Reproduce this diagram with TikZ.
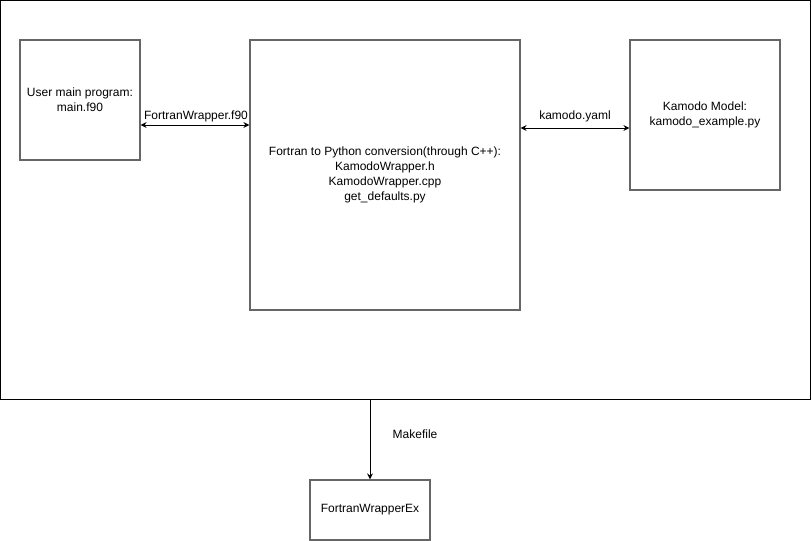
\documentclass[tikz,border=0pt]{standalone}
\usepackage{fontspec}
\setmainfont{Liberation Sans}
\usetikzlibrary{arrows.meta}
\tikzset{
  box/.style={draw=black!60, line width=1.2pt, inner sep=0pt, align=center, font=\fontsize{12}{15}\selectfont},
  link/.style={line width=1pt, -{Stealth[length=6pt,width=6pt]}},
  dlink/.style={line width=1pt, {Stealth[length=6pt,width=6pt]}-{Stealth[length=6pt,width=6pt]}},
  lbl/.style={font=\fontsize{12}{15}\selectfont}
}
\begin{document}
\begin{tikzpicture}[x=1pt, y=-1pt]
    \useasboundingbox (0,0) rectangle (812,541);
    \node[draw, line width=1pt, minimum width=810pt, minimum height=399pt, inner sep=0pt] (outer) at (405.5,200) {};

    \node[box, minimum width=120pt, minimum height=120pt] (user) at (80,100) {};
    \node[box, minimum width=270pt, minimum height=270pt] (conv) at (385,175) {};
    \node[box, minimum width=150pt, minimum height=150pt] (model) at (705,115) {};
    \node[box, minimum width=120pt, minimum height=60pt] (ex) at (370,510) {FortranWrapperEx};

    \node[lbl, align=center] (usertxt) at (user) {User main program:\\main.f90};
    \node[lbl, align=center] (convtxt) at (conv) {Fortran to Python conversion(through C++):\\KamodoWrapper.h\\KamodoWrapper.cpp\\get\_defaults.py};
    \node[lbl, align=center] (modeltxt) at (model) {Kamodo Model:\\kamodo\_example.py};

    \draw[dlink] (user.east |- 0,125) -- (conv.west |- 0,125);
    \draw[dlink] (conv.east |- 0,128) -- (model.west |- 0,128);
    \draw[link] (ex.north |- outer.south) -- (ex.north);

    \node[lbl] (f90) at (196,116) {FortranWrapper.f90};
    \node[lbl] (yaml) at (575,116) {kamodo.yaml};
    \node[lbl] (make) at (415,434) {Makefile};
\end{tikzpicture}
\end{document}
